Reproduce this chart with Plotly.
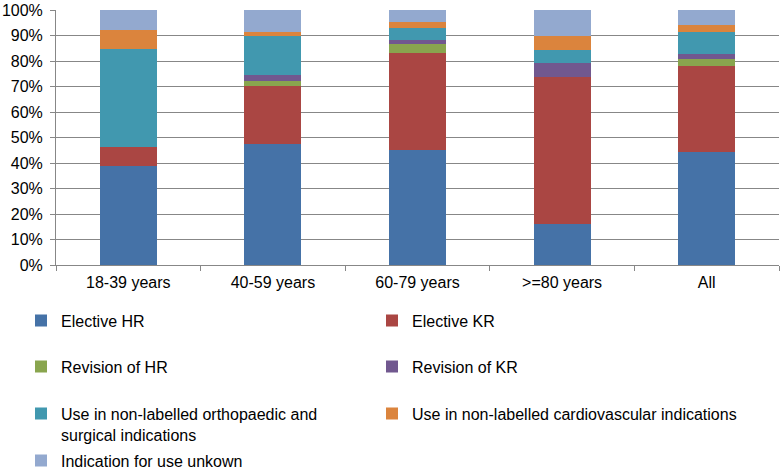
import plotly.graph_objects as go

categories = ["18-39 years", "40-59 years", "60-79 years", ">=80 years", "All"]

series_names = [
    "Elective HR",
    "Elective KR",
    "Revision of HR",
    "Revision of KR",
    "Use in non-labelled orthopaedic and<br>surgical indications",
    "Use in non-labelled cardiovascular indications",
    "Indication for use unkown",
]

elective_hr = [38.7, 47.5, 45.1, 16.1, 44.2]
elective_kr = [7.4, 22.8, 37.9, 57.6, 34.0]
revision_hr = [0.0, 2.0, 3.7, 0.0, 2.6]
revision_kr = [0.0, 2.1, 1.4, 5.4, 1.8]
non_labelled_ortho = [38.6, 15.3, 4.9, 5.2, 8.9]
non_labelled_cardio = [7.6, 1.8, 2.4, 5.4, 2.5]
unknown = [7.7, 8.5, 4.6, 10.3, 6.0]

series_values = [elective_hr, elective_kr, revision_hr, revision_kr,
                 non_labelled_ortho, non_labelled_cardio, unknown]

colors = ["#4572A7", "#AA4643", "#89A54E", "#71588F", "#4198AF", "#DB843D", "#93A9CF"]

y_ticks = list(range(0, 101, 10))
y_ticktext = [f"{v}%" for v in y_ticks]

# layout geometry
W, H = 782, 470
ML, MR, MT, MB = 56, 3, 10, 205
PW = W - ML - MR
PH = H - MT - MB

# legend grid (pixel positions of text start and row centers)
col_text_x = [61, 412]
row_center_y = [321, 367, 414, 461]
legend_cells = [(0, 0), (1, 0), (0, 1), (1, 1), (0, 2), (1, 2), (0, 3)]

FONT = "Liberation Sans, Arial, sans-serif"

fig = go.Figure()
layout_legends = {}
for i, (name, vals, col) in enumerate(zip(series_names, series_values, colors)):
    lid = "legend" if i == 0 else f"legend{i+1}"
    fig.add_trace(go.Bar(
        x=categories, y=vals, name=name,
        marker=dict(color=col, line=dict(width=0)),
        legend=lid,
    ))
    c, r = legend_cells[i]
    left_px = col_text_x[c] - 40
    top_px = row_center_y[r] - 17.4
    layout_legends[lid] = dict(
        x=(left_px - ML) / PW,
        y=(MT + PH - top_px) / PH,
        xanchor="left", yanchor="top",
        bgcolor="rgba(0,0,0,0)",
        borderwidth=0,
        valign="top",
        font=dict(family=FONT, size=16, color="#000000"),
    )

fig.update_layout(
    width=W, height=H,
    autosize=False,
    margin=dict(l=ML, r=MR, t=MT, b=MB, pad=0, autoexpand=False),
    barmode="stack",
    bargap=0.606,
    paper_bgcolor="#ffffff",
    plot_bgcolor="#ffffff",
    font=dict(family=FONT, size=16, color="#000000"),
    showlegend=True,
    **layout_legends,
)

fig.update_xaxes(
    type="category",
    showline=True, linecolor="#878787", linewidth=1,
    ticks="outside", ticklen=5, tickcolor="#878787", tickwidth=1,
    tickson="boundaries",
    ticklabelstandoff=3,
    showgrid=False,
    tickfont=dict(family=FONT, size=16, color="#000000"),
)
fig.update_yaxes(
    range=[0, 100],
    tickvals=y_ticks, ticktext=y_ticktext,
    showline=True, linecolor="#878787", linewidth=1,
    ticks="outside", ticklen=5, tickcolor="#878787", tickwidth=1,
    ticklabelstandoff=4,
    showgrid=True, gridcolor="#878787", gridwidth=1,
    zeroline=False,
    tickfont=dict(family=FONT, size=16, color="#000000"),
)

fig.write_html(
    "out.html",
    config={"displayModeBar": False},
    post_script="document.body.style.margin='0px';document.body.style.padding='0px';",
)
